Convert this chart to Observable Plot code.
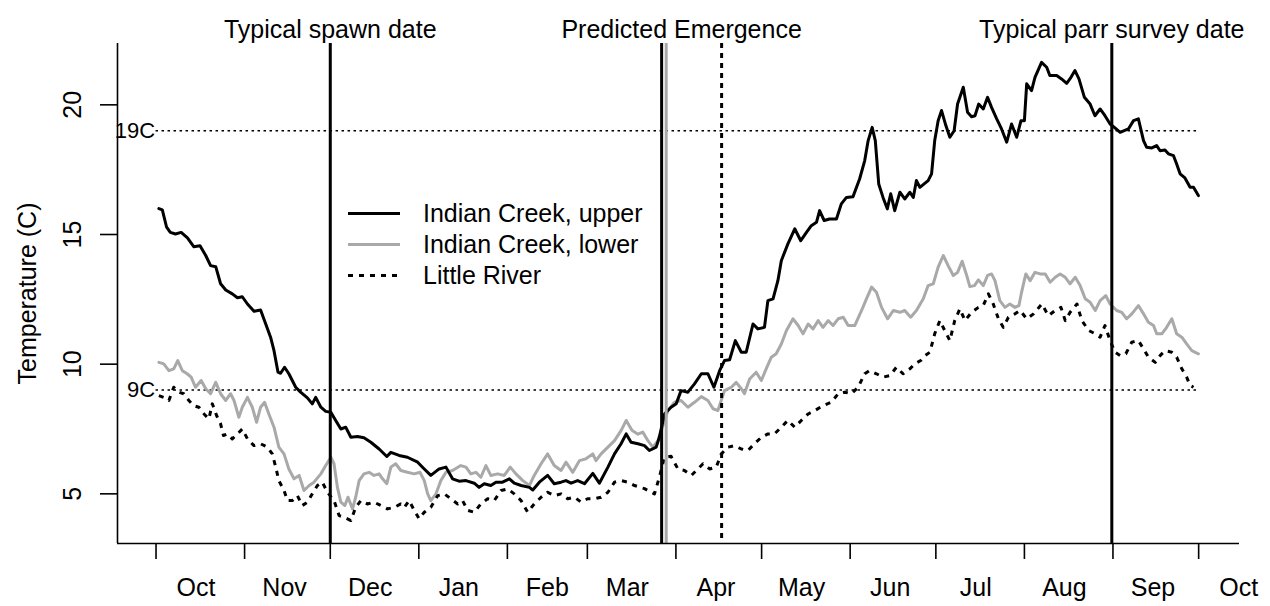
<!DOCTYPE html>
<html>
<head>
<meta charset="utf-8">
<script src="https://cdn.jsdelivr.net/npm/d3@7"></script>
<script src="https://cdn.jsdelivr.net/npm/@observablehq/plot@0.6"></script>
<style>
  html, body { margin: 0; padding: 0; background: #fff; }
  #wrap { position: relative; width: 1270px; height: 606px; font-family: "Liberation Sans", Arial, sans-serif; }
  #legend { position: absolute; left: 348px; top: 198px; font-size: 25px; line-height: 31px; color: #000; }
  #legend .row { display: flex; align-items: center; height: 31px; white-space: nowrap; }
  #legend svg { width: 52px; height: 31px; margin-right: 23px; }
</style>
</head>
<body>
<div id="wrap"><div id="legend"></div></div>
<script>
// ---- data (day = days after 1 Oct of the first season year) ----
const upperDay = [1,2.2,3.7,5,6.8,8.8,11,13.2,15.4,17.4,19.1,20.9,22.6,24.4,26.7,28.5,30.2,32,34.3,36.6,38.4,40.1,41.3,42.7,43.6,45,46.5,48.9,50.6,53,54.7,55.9,57.7,59.4,61.2,62.9,64.7,66.4,68.2,70.5,72.8,75.2,78.1,80.8,82.2,85.1,88,91.6,93.9,96.2,99.1,101.5,103.8,106.1,108.5,111.4,113.1,114.9,117.2,119,121.3,123.7,125.4,127.8,130.7,131.9,134.2,137.1,139.4,141.8,143.5,145.3,147.6,150,152.9,155.2,158.2,160.5,162.8,164.6,166.3,168.7,171,172.7,175.1,176.2,178,180.3,182.1,183.8,186.2,188.5,190.9,193.2,195.3,197.3,199,200.8,202.8,204.9,206.6,209,210.7,213,214.2,216,217.7,218.9,221.2,223.6,225.7,227.7,229.4,231.2,232.3,233.9,235.8,238.2,239.9,241.7,244,246.3,248.1,249.3,250.7,251.8,253,254.5,256,257.2,258.6,260.4,262.1,263.9,265.1,266.2,267.4,270.3,271.5,272.6,273.8,275,276.5,277.9,279.4,280.6,282.6,284.1,285.5,286.7,288,289.6,291.1,292.5,294.3,296,297.8,299.5,301.3,302.8,304,304.8,306.5,307.7,310,311.8,312.9,315.3,317,318.8,320.3,321.7,323.1,325,327,328.7,330.5,332.2,334,335.7,337.5,340.4,342.2,343.9,345.7,346.8,348.6,350.3,351.5,353.2,354.4,356.2,357.3,358.5,360.2,362,363.2,364.9];
const upperTemp = [16,15.95,15.28,15.08,15.02,15.08,14.87,14.53,14.57,14.19,13.8,13.76,13.1,12.86,12.71,12.56,12.6,12.32,12.04,12.09,11.55,11.04,10.52,9.69,9.65,9.88,9.63,9.11,8.92,8.7,8.47,8.72,8.34,8.18,8.15,7.83,7.5,7.57,7.18,7.21,7.16,6.99,6.73,6.44,6.6,6.48,6.41,6.22,5.96,5.71,5.96,6.03,5.58,5.49,5.51,5.41,5.25,5.39,5.32,5.45,5.45,5.58,5.41,5.32,5.25,5.15,5.45,5.71,5.39,5.45,5.51,5.41,5.51,5.39,5.79,5.41,6.03,6.54,6.93,7.31,6.99,6.93,6.86,6.67,6.8,7.18,8.08,8.34,8.47,8.98,8.92,9.24,9.63,9.63,9.11,9.75,10.14,10.17,10.91,10.46,10.46,11.55,11.36,11.42,12.45,12.52,13.22,13.99,14.64,15.22,14.76,15.08,15.34,15.47,15.92,15.54,15.6,15.6,16.18,16.43,16.46,17.14,17.85,18.62,19.13,18.62,16.95,16.43,15.99,16.57,15.92,16.63,16.37,16.63,16.43,17.08,16.82,17.08,17.34,18.62,19.39,19.78,19.2,18.75,19,20.03,20.68,19.71,19.54,19.58,20.03,19.84,20.29,19.9,19.46,19.07,18.56,19.26,18.75,19.39,19.39,20.81,20.55,21.06,21.64,21.45,21.13,21.13,21,20.83,21.06,21.32,21,20.29,20.03,19.58,19.84,19.58,19.26,19.11,18.94,19.07,19.39,19.46,18.62,18.36,18.34,18.43,18.23,18.26,18.11,18.04,17.72,17.34,17.18,16.82,16.82,16.5];

const lowerDay = [1,2.7,4.5,6.2,7.6,9.2,10.9,12.3,13.8,15.8,17.4,19.1,20.9,22.6,24.4,26.1,27.3,29,30.2,32,33.7,35.2,36.6,38,39.5,41.3,43,44.8,46.5,48.3,50.1,51.8,53.6,55.3,57.7,59.4,61.2,62.3,63.5,64.7,66.1,67.2,68.8,69.9,71.1,72.8,74.6,76.3,78.1,79.3,80.8,82.2,83.9,85.7,88,90.4,92.4,93.9,95.1,96.2,98,99.7,101.5,103.8,106.7,108.5,110.2,112,113.7,115.5,117.2,119.6,121.9,124,126,128.4,130.7,132.4,134.8,137.1,139.4,141.8,143.5,145.9,148.2,150.5,152.9,154,155.8,158.2,160.5,162.8,164.6,166.6,168.7,170.4,172.2,173.9,175.7,179.2,181.5,183.8,186.2,188.5,190.9,193.2,195,196.7,199,201.4,203.1,204.9,206,207.8,210.1,211.9,213.6,215.4,217.1,218.9,220.7,223,224.8,226.5,228.3,230,231.8,233.5,235.3,237,238.8,240.6,242.3,244.6,247,248.7,250.5,252.2,254,256.1,258.1,260.4,262.1,264.2,266.2,268.6,270.3,272.1,273.8,275.6,277.3,279.1,280.6,282.2,283.8,284.9,286.5,287.9,289.6,291.1,292.5,293.7,295.4,297.2,298.9,300.7,302.1,303,304.5,306,307.7,309.5,311.3,313,314.8,316.5,318.3,320,321.8,323.5,325.3,327,328.8,330.5,332.5,334,336.3,338.1,339.8,341.6,343.9,345.7,347.4,349.2,350.3,352.1,353.8,355.6,357.3,359.1,360.8,362.6,364.9];
const lowerTemp = [10.07,10.01,9.75,9.82,10.14,9.75,9.63,9.5,9.11,9.37,9.05,8.86,9.3,8.86,8.6,8.86,8.6,7.95,8.34,8.72,8.34,7.76,8.34,8.53,8.08,7.57,6.8,6.54,5.96,5.58,5.71,5.13,5.32,5.45,5.77,6.09,6.41,6.16,5.25,4.68,4.55,4.87,4.42,4.87,5.51,5.77,5.83,5.71,5.77,5.58,5.39,6.03,6.16,5.9,5.83,5.77,5.83,5.51,5,4.74,5,5.51,5.83,5.9,6.09,6.03,5.77,5.83,5.64,6.09,5.71,5.77,5.71,6.03,5.77,5.51,5.32,5.71,6.16,6.54,6.09,5.9,6.22,5.83,6.28,6.35,6.54,6.28,6.54,6.8,7.05,7.44,7.83,7.45,7.3,7.38,7.05,6.8,7.05,8.21,8.53,8.6,8.34,8.53,8.75,8.6,8.28,8.21,8.98,9.11,9.3,9.05,8.86,9.43,9.69,9.37,9.82,10.27,10.4,10.78,11.3,11.75,11.49,11.17,11.55,11.36,11.68,11.42,11.68,11.49,11.75,11.81,11.49,11.49,12.07,12.52,12.97,12.77,12.19,11.75,12.07,12,12.07,11.81,12.07,12.52,13.03,13.1,13.74,14.19,13.8,13.42,13.54,13.97,13.42,12.99,13.03,13.25,13.03,13.42,13.48,13.22,12.45,12.19,12.32,12.19,12.26,12.77,13.48,13.22,13.54,13.48,13.48,13.16,13.35,13.48,13.35,13.1,13.35,13.03,12.52,12.39,12.07,12.45,12.64,12.32,12.07,12,11.75,11.94,12.26,11.94,11.62,11.49,11.17,11.17,11.42,11.75,11.17,11.04,10.78,10.52,10.4];

const littleDay = [1,2.7,4.5,6.2,8,9.7,11.5,13.2,15,16.8,18.5,19.7,21.2,22.6,23.6,25,26.7,28.5,30.2,32,34.3,36.6,39,40.7,41.9,43,44.8,46,47.7,49.5,51.2,53,54.7,56.5,58.2,60,62.3,64.1,65.8,68.2,69.9,71.7,74,76.3,78.7,81,83.4,85.7,86.9,88.6,90.4,92.1,93.9,96.2,98.6,100.9,103.2,105.6,107.3,109.1,111.4,113.7,116.1,118.4,120.8,123.1,125.4,127.8,130.1,132.4,134.8,137.1,139.4,141.8,144.1,146.5,148.8,151.1,153.5,155.8,158.2,160.5,162.8,165.1,167.5,171,174.5,176.2,178,180.3,182.7,185,187.4,189.7,191.5,193.8,196.1,197.9,200.2,202.5,204.9,207.2,209.5,211.9,214.2,216.5,218.9,221.2,223.6,225.9,228.3,230.6,233.5,236.4,238.8,241.1,243.4,245.8,248.1,249.8,252.2,254.5,256.9,259.2,261.5,263.9,265.6,267.7,269.2,270.9,272.6,274.4,276.1,277.9,279.6,281.4,283.2,285.5,287.9,289.6,291.4,293.1,294.9,296.6,298.4,300.7,302.5,304.8,307.2,310.1,312.4,314.8,316.8,318.3,320,322.4,324.1,326.5,328.8,330.5,332.2,334,335.7,337.5,339.5,341.6,343.9,345.7,347.4,349.8,351.5,353.2,355.6,357.3,359.1,360.8,362,363.2];
const littleTemp = [8.79,8.72,8.6,9.11,8.92,8.86,8.6,8.4,8.34,8.08,7.89,8.47,8.02,7.7,7.25,7.31,7.12,7.31,7.5,7.12,6.86,6.93,6.8,6.54,6.03,5.51,5.13,4.74,4.74,4.93,4.55,4.68,5,5.32,5.45,5.06,4.74,4.16,4.1,3.97,4.48,4.74,4.61,4.68,4.55,4.42,4.48,4.61,4.48,4.74,4.36,4.04,4.29,4.48,4.93,5,4.81,4.61,4.74,4.36,4.29,4.61,4.81,4.74,5.13,5.19,5,4.74,4.29,4.61,4.87,5.06,4.93,5,4.81,4.87,4.68,4.81,4.81,4.87,5.06,5.45,5.51,5.45,5.32,5.2,5,5.64,6.41,6.45,5.96,5.9,5.71,5.96,6.16,5.96,6.03,6.54,6.8,6.86,6.73,6.67,6.93,7.18,7.31,7.31,7.57,7.83,7.57,7.83,8.08,8.21,8.4,8.53,8.86,8.92,8.86,9.11,9.63,9.75,9.63,9.5,9.56,9.88,9.63,9.82,10.01,10.14,10.33,10.46,11.17,11.68,11.3,10.91,11.68,12.13,11.68,12,12.19,12.26,12.71,12.32,11.75,11.42,11.81,11.94,12.07,11.75,11.94,12.32,11.87,12.07,12.19,11.68,12,12.32,11.68,11.3,11.17,11.04,11.49,10.91,10.46,10.33,10.4,10.85,10.91,10.59,10.27,10.07,10.33,10.52,10.46,10.27,9.82,9.5,9.18,9.11];

const seriesNames = ["Indian Creek, upper", "Indian Creek, lower", "Little River"];
const thresholds = [19, 9];
const thresholdLabels = ["19C", "9C"];
const eventDays = [61, 177, 178.6, 198, 334.6];     // spawn, emergence (upper, lower, Little River), parr survey
const eventKinds = ["solid", "solid", "gray", "dashed", "solid"];
const topLabelDays = [61, 184, 334.6];
const topLabels = ["Typical spawn date", "Predicted Emergence", "Typical parr survey date"];
const monthStartDays = [0,31,61,92,123,151,182,212,243,273,304,335,365];
const monthLabels = ["Oct","Nov","Dec","Jan","Feb","Mar","Apr","May","Jun","Jul","Aug","Sep","Oct"];
const yTicks = [5, 10, 15, 20];

// ---- build ----
const start = Date.UTC(2010, 9, 1);
const DAY = 864e5;
const toDate = d => new Date(start + d * DAY);
const rows = (days, temps) => days.map((d, i) => ({date: toDate(d), temp: temps[i]}));
const upper = rows(upperDay, upperTemp);
const lower = rows(lowerDay, lowerTemp);
const little = rows(littleDay, littleTemp);
const events = eventDays.map((d, i) => ({date: toDate(d), kind: eventKinds[i]}));
const xDomain = [toDate(-13.49), toDate(379.3)];
const yDomain = [3.085, 22.365];
const GRAY = "#a9a9a9";
const FONT = "Liberation Sans, Arial, sans-serif";

const chart = Plot.plot({
  width: 1270, height: 606,
  marginLeft: 117, marginRight: 31, marginTop: 43, marginBottom: 63,
  style: {fontFamily: FONT, fontSize: "25px", background: "white", color: "black"},
  x: {type: "utc", domain: xDomain},
  y: {domain: yDomain},
  marks: [
    Plot.ruleY(thresholds, {y: d => d, x1: () => toDate(0), x2: () => toDate(364.5), stroke: "black", strokeWidth: 1.5, strokeDasharray: "2.5,3.5"}),
    Plot.text(thresholds, {x: () => toDate(0), y: d => d, text: (d, i) => thresholdLabels[i], textAnchor: "end", dx: -1, fontSize: 22}),
    Plot.line(lower, {x: "date", y: "temp", stroke: GRAY, strokeWidth: 3}),
    Plot.line(little, {x: "date", y: "temp", stroke: "black", strokeWidth: 3, strokeDasharray: "5,6", strokeLinecap: "butt"}),
    Plot.line(upper, {x: "date", y: "temp", stroke: "black", strokeWidth: 3}),
    Plot.ruleX(events.filter(e => e.kind === "solid"), {x: "date", stroke: "black", strokeWidth: 3}),
    Plot.ruleX(events.filter(e => e.kind === "gray"), {x: "date", stroke: GRAY, strokeWidth: 3}),
    Plot.ruleX(events.filter(e => e.kind === "dashed"), {x: "date", stroke: "black", strokeWidth: 3, strokeDasharray: "5,5", strokeLinecap: "butt"}),
    Plot.ruleX([xDomain[0]], {stroke: "black", strokeWidth: 1.6}),
    Plot.ruleY([yDomain[0]], {stroke: "black", strokeWidth: 1.6}),
    Plot.axisX({ticks: monthStartDays.map(toDate), tickSize: 16, tickFormat: () => "", strokeWidth: 1.6, label: null}),
    Plot.axisY({ticks: yTicks, tickSize: 17, tickFormat: () => "", strokeWidth: 1.6, label: null}),
    Plot.text(monthLabels, {x: (d, i) => toDate(monthStartDays[i] + 14), text: d => d, frameAnchor: "bottom", textAnchor: "middle", dy: 52, fontSize: 25}),
    Plot.text(yTicks, {y: d => d, text: d => String(d), frameAnchor: "left", textAnchor: "middle", dx: -45, rotate: -90, fontSize: 25}),
    Plot.text(["Temperature (C)"], {frameAnchor: "left", textAnchor: "middle", dx: -90, rotate: -90, fontSize: 25}),
    Plot.text(topLabels, {x: (d, i) => toDate(topLabelDays[i]), text: d => d, frameAnchor: "top", textAnchor: "middle", dy: -23, fontSize: 25})
  ]
});
const wrap = document.getElementById("wrap");
wrap.insertBefore(chart, wrap.firstChild);

// legend
const legend = document.getElementById("legend");
const legendStyles = [
  {stroke: "black", dash: null},
  {stroke: GRAY, dash: null},
  {stroke: "black", dash: "5,6"}
];
seriesNames.forEach((name, i) => {
  const row = document.createElement("div");
  row.className = "row";
  const s = legendStyles[i];
  row.innerHTML = `<svg viewBox="0 0 52 31"><line x1="0" x2="52" y1="15.5" y2="15.5" stroke="${s.stroke}" stroke-width="3"${s.dash ? ` stroke-dasharray="${s.dash}"` : ""}/></svg><span>${name}</span>`;
  legend.appendChild(row);
});
</script>
</body>
</html>
